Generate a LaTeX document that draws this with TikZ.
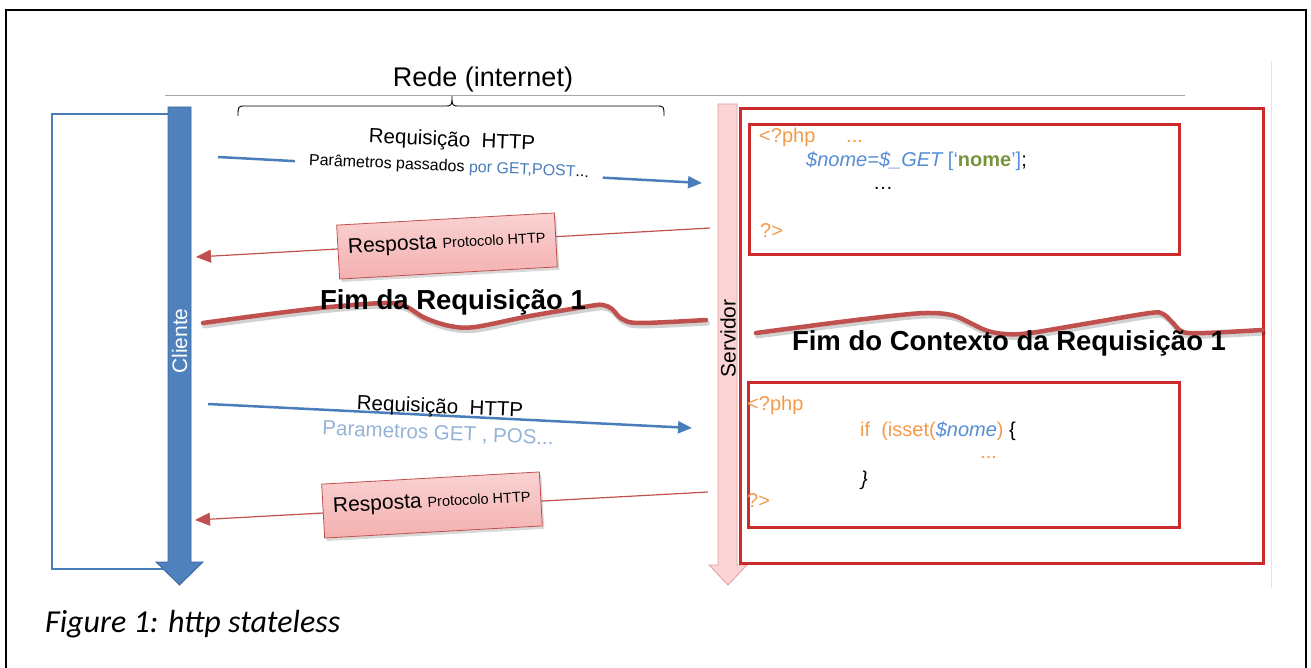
\documentclass[tikz,border=0pt]{standalone}
\usepackage{fontspec}
\setmainfont{Liberation Sans}
\newfontfamily\capfont{Carlito}
\usetikzlibrary{arrows.meta,shadows}
\definecolor{clientblue}{HTML}{4F81BD}
\definecolor{clientblueD}{HTML}{3B6699}
\definecolor{reqblue}{HTML}{4A7EBB}
\definecolor{respred}{HTML}{C0504D}
\definecolor{boxred}{HTML}{CC2B2B}
\definecolor{pinkfill}{HTML}{F4B0B0}
\definecolor{pinktop}{HTML}{FAD2D2}
\definecolor{srvfill}{HTML}{FAD4D4}
\definecolor{srvline}{HTML}{E29C9C}
\definecolor{phporange}{HTML}{F39A4A}
\definecolor{phpblue}{HTML}{558ED5}
\definecolor{phpgreen}{HTML}{77933C}
\definecolor{paramblue}{HTML}{95B3D7}
\definecolor{rulegray}{HTML}{A6A6A6}
\definecolor{faintline}{HTML}{E6E4D4}
\newcommand\fsz[1]{\fontsize{#1}{#1}\selectfont}
\tikzset{
  reqline/.style={draw=reqblue, line width=2.5pt, -{Triangle[length=14pt,width=12pt]}},
  respline/.style={draw=respred, line width=1.2pt, -{Triangle[length=15pt,width=13pt]}},
  respbox/.style={draw=respred, line width=0.8pt, top color=pinktop, bottom color=pinkfill,
     minimum width=218pt, minimum height=54pt, inner sep=0pt, rotate=3.2,
     text height=16pt, text depth=12pt, font=\fsz{21},
     drop shadow={opacity=0.3, shadow xshift=2pt, shadow yshift=-3pt}},
  phpbox/.style={draw=boxred, line width=2.8pt, inner sep=0pt, anchor=north west},
  code/.style={anchor=base west, inner sep=0pt, font=\fsz{20}},
  bigtitle/.style={font=\bfseries\fsz{27.5}, inner sep=0pt},
  wave/.style={draw=respred, line width=4.5pt, line cap=round},
  waveshadow/.style={draw=black, opacity=0.18, line width=5pt, line cap=round},
}
\begin{document}
\begin{tikzpicture}[x=1pt,y=-1pt]
\useasboundingbox (0,0) rectangle (1311,668);
% outer frame
\draw[line width=1.2pt] (6,668) -- (6,10) -- (1306,10) -- (1306,668);
\draw[faintline, line width=1pt] (1271,61) -- (1271,588);
% network title, rule, brace
\node[font=\fsz{27}, inner sep=0pt] (rede) at (483,80) {Rede (internet)};
\draw[rulegray, line width=0.8pt] (165,95.5) -- (1185,95.5);
\draw[line width=0.9pt] (238,116) .. controls (238,106) .. (246,106) -- (444,106)
   .. controls (452,106) .. (452,96) .. controls (452,106) .. (460,106) -- (656,106)
   .. controls (664,106) .. (664,116);
% client
\node[draw=reqblue, line width=2pt, inner sep=0pt, minimum width=124pt, minimum height=455pt, anchor=north west] (clientbox) at (51,113) {};
\draw[fill=clientblue, draw=clientblueD, line width=0.8pt] (168,107) -- (191,107) -- (191,562) -- (203,562) -- (179.5,585) -- (156,562) -- (168,562) -- cycle;
\node[rotate=90, text=white, font=\fsz{21}, inner sep=0pt] (cliente) at (179.5,341) {Cliente};
% server
\draw[fill=srvfill, draw=srvline, line width=0.8pt] (718,104) -- (737,104) -- (737,565) -- (747,565) -- (728,585) -- (709,565) -- (718,565) -- cycle;
\node[rotate=90, font=\fsz{21}, inner sep=0pt] (servidor) at (728,338.5) {Servidor};
\node[phpbox, minimum width=523pt, minimum height=455pt] (serverbox) at (739,107) {};
\node[phpbox, minimum width=430pt, minimum height=130pt] (php1) at (748,123) {};
\node[phpbox, minimum width=431pt, minimum height=145pt] (php2) at (747,381) {};
% code 1
\node[code, text=phporange] (p1a) at (759,143) {<?php};
\node[code, text=phporange] (p1b) at (846,143) {...};
\node[code] (p1c) at (806,167) {\textcolor{phpblue}{\itshape\$nome=\$\_GET} \textcolor{phpblue}{[‘}\textcolor{phpgreen}{\bfseries nome}\textcolor{phpblue}{’]};};
\node[code] (p1d) at (873,190) {…};
\node[code, text=phporange] (p1e) at (760,238) {?>};
% code 2
\node[code, text=phporange] (p2a) at (747,410) {<?php};
\node[code] (p2b) at (860,436) {\textcolor{phporange}{if\ \ (isset(}\textcolor{phpblue}{\itshape\$nome}\textcolor{phporange}{)} \{};
\node[code, text=phporange] (p2c) at (980,458) {...};
\node[code] (p2d) at (861,485) {\itshape\}};
\node[code, text=phporange] (p2e) at (747,507) {?>};
% request 1
\coordinate (rq1s) at (218,157);
\coordinate (rq1e) at (702,183);
\draw[reqline] (rq1s) -- (rq1e);
\node[font=\fsz{20.5}, rotate=-2.5, inner sep=0pt] (rq1t) at (452,141) {Requisição\ \ HTTP};
\node[fill=white, inner xsep=14pt, inner ysep=1pt, rotate=-2.5, font=\fsz{16}] (rq1p) at (449,167) {Parâmetros passados \textcolor{reqblue}{por GET,POST}...};
% response 1
\coordinate (rs1s) at (710,228);
\coordinate (rs1e) at (196,257);
\draw[respline] (rs1s) -- (rs1e);
\node[respbox] (rs1box) at (447,246) {Resposta {\fsz{14.5}Protocolo HTTP}};
% end of request 1
\draw[waveshadow, xshift=1.5pt, yshift=-3pt] plot[smooth, tension=0.55] coordinates {(203,323) (270,314) (330,307) (385,303) (405,306) (425,318) (450,326) (475,327) (530,316) (590,306) (603,305) (612,309) (622,319) (640,323) (706,320)};
\draw[wave] plot[smooth, tension=0.55] coordinates {(203,323) (270,314) (330,307) (385,303) (405,306) (425,318) (450,326) (475,327) (530,316) (590,306) (603,305) (612,309) (622,319) (640,323) (706,320)};
\node[bigtitle] (fim1) at (453,302) {Fim da Requisição 1};
\draw[waveshadow, xshift=1.5pt, yshift=-3pt] plot[smooth, tension=0.55] coordinates {(756,333) (840,322) (900,315) (930,313) (955,316) (985,330) (1005,334) (1030,333) (1090,323) (1150,313) (1163,314) (1172,322) (1183,332) (1205,333) (1262,330)};
\draw[wave] plot[smooth, tension=0.55] coordinates {(756,333) (840,322) (900,315) (930,313) (955,316) (985,330) (1005,334) (1030,333) (1090,323) (1150,313) (1163,314) (1172,322) (1183,332) (1205,333) (1262,330)};
\node[bigtitle] (fim2) at (1009,343) {Fim do Contexto da Requisição 1};
% request 2
\coordinate (rq2s) at (208,404);
\coordinate (rq2e) at (692,428);
\draw[reqline] (rq2s) -- (rq2e);
\node[font=\fsz{20.5}, rotate=-2.5, inner sep=0pt] (rq2t) at (440,408) {Requisição\ \ HTTP};
\node[text=paramblue, font=\fsz{20.5}, rotate=-2.5, inner sep=0pt] (rq2p) at (438,434) {Parametros GET , POS...};
% response 2
\coordinate (rs2s) at (708,492);
\coordinate (rs2e) at (195,520);
\draw[respline] (rs2s) -- (rs2e);
\node[respbox] (rs2box) at (432,505) {Resposta {\fsz{14.5}Protocolo HTTP}};
% caption
\node[anchor=base west, inner sep=0pt, font=\capfont\itshape\fsz{32}] (caption) at (45,632) {Figure 1: http stateless};
\end{tikzpicture}
\end{document}
